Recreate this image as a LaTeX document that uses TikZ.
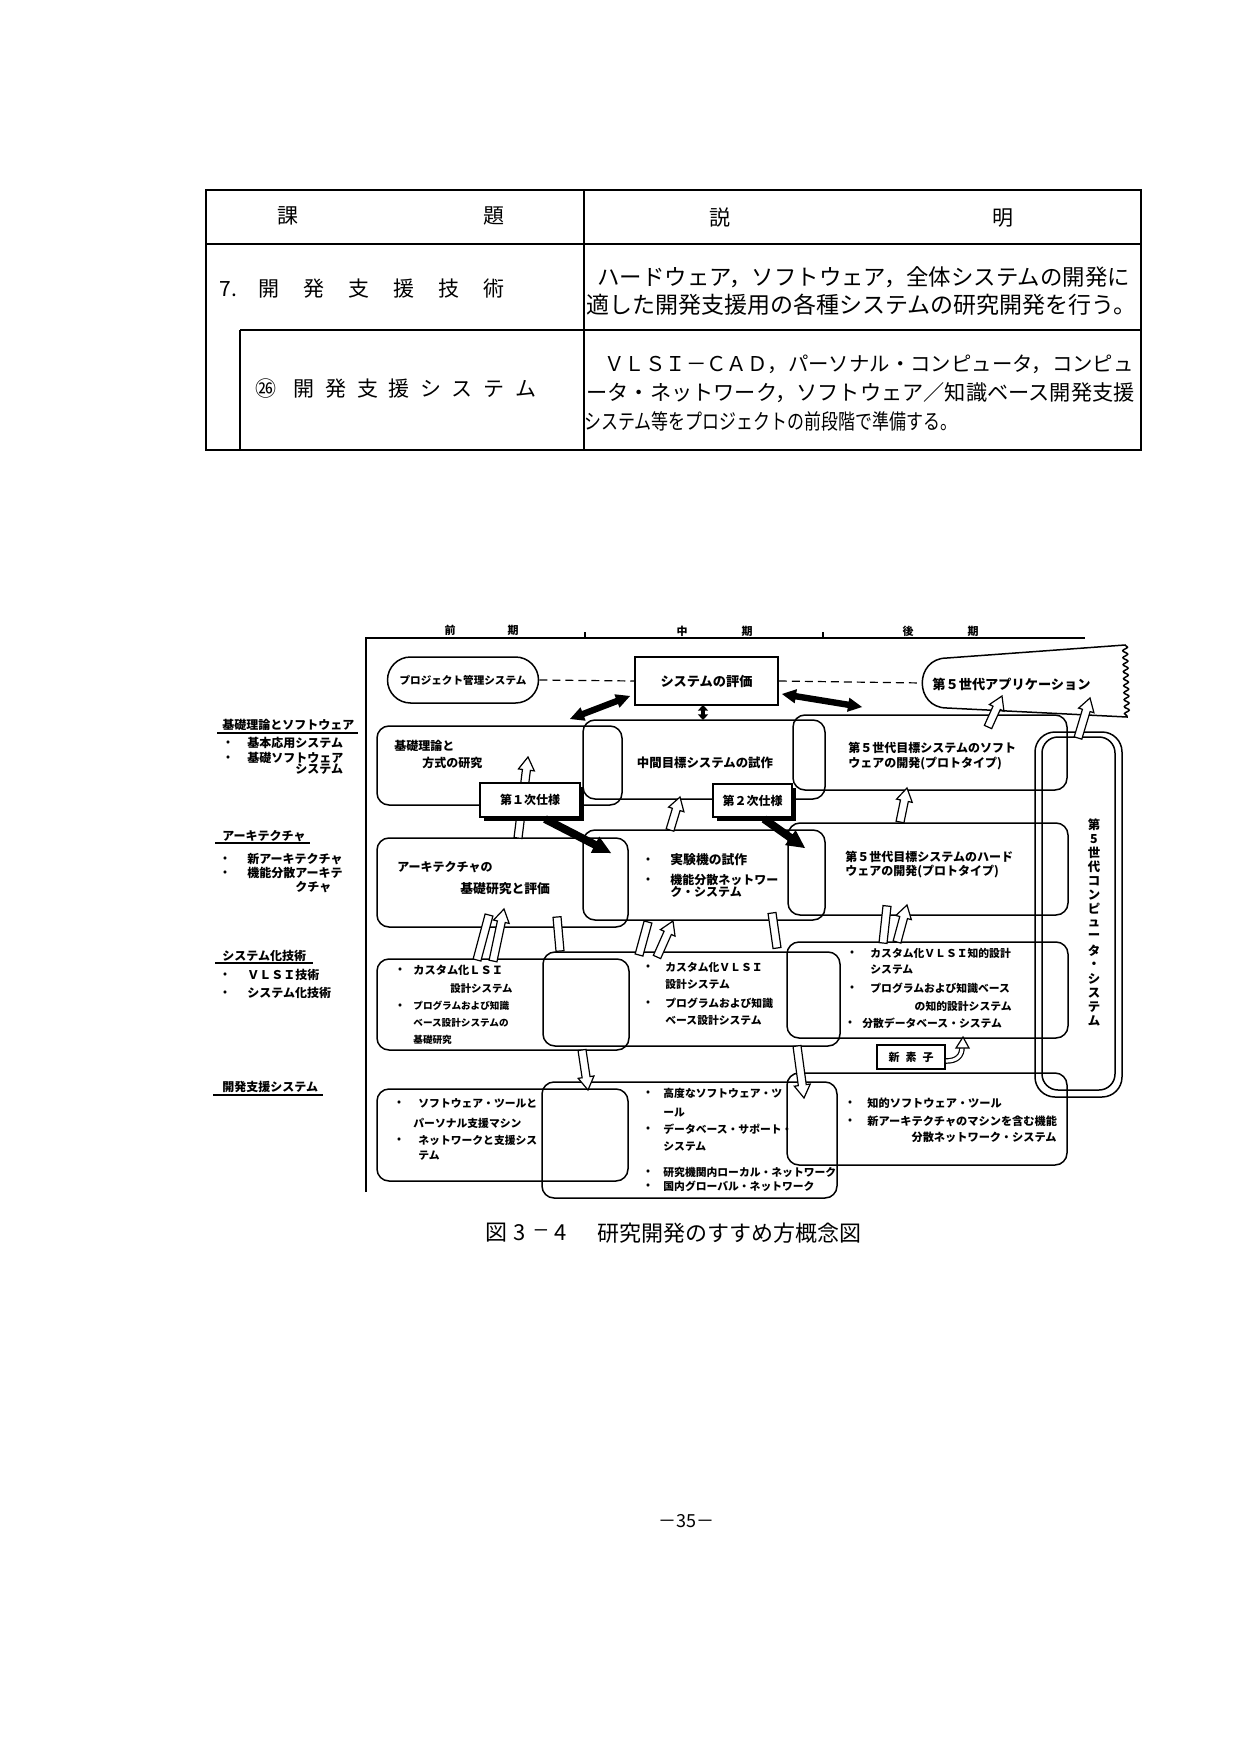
\documentclass[tikz,border=0pt]{standalone}
\usepackage{fontspec}
\usepackage{graphicx}
\setmainfont{Noto Sans CJK JP}
\usetikzlibrary{calc,fit,shadows,decorations.pathmorphing}
\newcommand\fs[1]{\fontsize{#1}{#1}\selectfont\bfseries}
\newcommand\ft[1]{\fontsize{#1}{#1}\selectfont}
\newcommand\gapA{\hspace{12pt}}
\newcommand\gapB{\hspace{5.3pt}}
% hollow block arrow from #1 to #2
\newcommand\hollowarr[2]{%
  \coordinate (bH) at ($(#2)!6.5pt!(#1)$);
  \draw[arrline] ($(#1)!2pt!90:(#2)$) -- ($(bH)!2pt!90:(#2)$) -- ($(bH)!4pt!90:(#2)$) -- (#2) -- ($(bH)!4pt!-90:(#2)$) -- ($(bH)!2pt!-90:(#2)$) -- ($(#1)!2pt!-90:(#2)$) -- cycle;}
% hollow strip (no head)
\newcommand\hollowstrip[2]{%
  \draw[arrline] ($(#1)!2pt!90:(#2)$) -- ($(#2)!2pt!-90:(#1)$) -- ($(#2)!2pt!90:(#1)$) -- ($(#1)!2pt!-90:(#2)$) -- cycle;}
% solid block arrow
\newcommand\solidarr[2]{%
  \coordinate (bS) at ($(#2)!9pt!(#1)$);
  \fill ($(#1)!2pt!90:(#2)$) -- ($(bS)!2pt!90:(#2)$) -- ($(bS)!4.6pt!90:(#2)$) -- (#2) -- ($(bS)!4.6pt!-90:(#2)$) -- ($(bS)!2pt!-90:(#2)$) -- ($(#1)!2pt!-90:(#2)$) -- cycle;}
% solid double-headed arrow: a, b, half shaft, half head, head length
\newcommand\dblarr[5]{%
  \coordinate (dA) at ($(#1)!#5!(#2)$);
  \coordinate (dB) at ($(#2)!#5!(#1)$);
  \fill (#1) -- ($(dA)!#4!90:(#2)$) -- ($(dA)!#3!90:(#2)$) -- ($(dB)!#3!-90:(#1)$) -- ($(dB)!#4!-90:(#1)$) -- (#2) -- ($(dB)!#4!90:(#1)$) -- ($(dB)!#3!90:(#1)$) -- ($(dA)!#3!-90:(#2)$) -- ($(dA)!#4!-90:(#2)$) -- cycle;}
\begin{document}
\begin{tikzpicture}[x=0.5pt,y=-0.5pt,
  box/.style={draw, line width=0.75pt, rounded corners=6pt, inner sep=0pt},
  arrline/.style={draw, fill=white, line width=0.6pt, line join=miter},
  tl/.style={inner sep=0pt, anchor=west, font=\fs{6}},
  tm/.style={inner sep=0pt, anchor=west, font=\fs{5.4}},
  bul/.style={inner sep=0pt, font=\fs{5}},
  tab/.style={inner sep=0pt, anchor=west, font=\ft{10.6}},
  th/.style={inner sep=0pt, font=\ft{10.5}},
  per/.style={inner sep=0pt, font=\fs{5.5}},
  dsh/.style={dashed, dash pattern=on 4pt off 2.5pt, line width=0.6pt},
  spec/.style={draw, fill=white, line width=0.8pt, inner sep=0pt, font=\fs{6},
     drop shadow={shadow xshift=1.8pt, shadow yshift=-1.8pt, fill=black, opacity=1}},
  tabline/.style={line width=0.8pt},
  captx/.style={inner sep=0pt, font=\ft{11}}]
\fill[white] (0,0) rectangle (1248,1754);
\useasboundingbox (0,0) rectangle (1248,1754);

% ---------------- table ----------------
\draw[line width=1.2pt] (206,190) rectangle (1141,450);
\draw[tabline] (206,244) -- (1141,244);
\draw[tabline] (240,330) -- (1141,330);
\draw[tabline] (240,330) -- (240,450);
\draw[tabline] (584,190) -- (584,450);
\node[th] (hk1) at (288,216) {課};
\node[th] (hk2) at (494,216) {題};
\node[th] (hs1) at (720,218) {説};
\node[th] (hs2) at (1003,218) {明};
\node[tab, font=\ft{10.5}] (r1l) at (219,289) {7.\hspace{11pt}開\gapA 発\gapA 支\gapA 援\gapA 技\gapA 術};
\node[tab, font=\ft{10.5}] (r2l) at (255.5,389) {㉖\hspace{8.5pt}開\gapB 発\gapB 支\gapB 援\gapB シ\gapB ス\gapB テ\gapB ム};
\node[tab, font=\ft{11.2}] (r1a) at (597,277) {ハードウェア，ソフトウェア，全体システムの開発に};
\node[tab, font=\ft{11.5}] (r1b) at (586,305) {適した開発支援用の各種システムの研究開発を行う。};
\node[tab, font=\ft{10.2}] (r2a) at (604,364) {ＶＬＳＩ－ＣＡＤ，パーソナル・コンピュータ，コンピュ};
\node[tab] (r2b) at (586,393) {ータ・ネットワーク，ソフトウェア／知識ベース開発支援};
\node[tab] (r2c) at (584,421) {\scalebox{0.8}[1]{システム等をプロジェクトの前段階で準備する。}};

% ---------------- time axis frame ----------------
\draw[line width=1pt] (366,1192) -- (366,638) -- (1085,638);
\draw[line width=0.7pt] (585,632) -- (585,638);
\draw[line width=0.7pt] (823,632) -- (823,638);
\node[per] (pa1) at (450,630) {前};
\node[per] (pa2) at (513,630) {期};
\node[per] (pb1) at (682,631) {中};
\node[per] (pb2) at (747,631) {期};
\node[per] (pc1) at (908,631) {後};
\node[per] (pc2) at (973,631) {期};

% ---------------- left labels ----------------
\node[tl] (lab1) at (222,725) {基礎理論とソフトウェア};
\draw[line width=0.6pt] (217,733) -- (358,733);
\node[bul] (lb1) at (228,743) {•};
\node[tl] (l1a) at (247,743) {基本応用システム};
\node[bul] (lb2) at (228,758) {•};
\node[tl] (l1b) at (247,758) {基礎ソフトウェア};
\node[tl] (l1c) at (295,769) {システム};
\node[tl] (lab2) at (222,836) {アーキテクチャ};
\draw[line width=0.6pt] (215,843) -- (310,843);
\node[bul] (lb3) at (225,859) {•};
\node[tl] (l2a) at (247,859) {新アーキテクチャ};
\node[bul] (lb4) at (225,873) {•};
\node[tl] (l2b) at (247,873) {機能分散アーキテ};
\node[tl] (l2c) at (295,887) {クチャ};
\node[tl] (lab3) at (222,956) {システム化技術};
\draw[line width=0.6pt] (215,963) -- (313,963);
\node[bul] (lb5) at (225,975) {•};
\node[tl] (l3a) at (247,975) {ＶＬＳＩ技術};
\node[bul] (lb6) at (225,993) {•};
\node[tl] (l3b) at (247,993) {システム化技術};
\node[tl] (lab4) at (222,1087) {開発支援システム};
\draw[line width=0.6pt] (213,1095) -- (323,1095);

% ---------------- top row shapes ----------------
\node[draw, line width=0.75pt, rounded corners=11.5pt, minimum width=75.5pt, minimum height=23pt, inner sep=0pt, font=\fs{5.3}] (pm) at (463,680) {プロジェクト管理システム};
\node[draw, line width=0.8pt, minimum width=71.5pt, minimum height=24pt, inner sep=0pt, font=\fs{6.6}] (ev) at (706.5,681) {システムの評価};
\draw[line width=0.75pt] (947,658) -- (1125,645) decorate[decoration={snake, segment length=3.5pt, amplitude=1.2pt}] {-- (1127,717)} -- (947,708) .. controls (914,708) and (914,658) .. (947,658);
\node[inner sep=0pt, anchor=west, font=\fs{6.6}] (app) at (932,684) {第５世代アプリケーション};
\coordinate (appW) at (922,683);
\draw[dsh] (pm.east) -- (ev.west);
\draw[dsh] (ev.east) -- (appW);

% ---------------- boxes ----------------
\node[box, fit={(377,726) (622,805)}] (A1) {};
\node[box, fit={(583,720) (825,799)}] (B1) {};
\node[box, fit={(793,715) (1067,790)}] (C1) {};
\node[box, fit={(377,838) (628,927)}] (A2) {};
\node[box, fit={(583,830) (825,920)}] (B2) {};
\node[box, fit={(788,823) (1068,915)}] (C2) {};
\node[box, fit={(377,959) (629,1050)}] (A3) {};
\node[box, fit={(543,952) (840,1046)}] (B3) {};
\node[box, fit={(787,942) (1068,1038)}] (C3) {};
\node[box, fit={(377,1089) (628,1181)}] (A4) {};
\node[box, fit={(542,1082) (837,1198)}] (B4) {};
\node[box, fit={(787,1073) (1067,1165)}] (C4) {};
\node[draw, line width=0.75pt, rounded corners=10pt, inner sep=0pt, fit={(1035,732) (1122,1097)}] (BGo) {};
\node[draw, line width=0.75pt, rounded corners=8pt, inner sep=0pt, fit={(1042,737) (1115,1090)}] (BGi) {};

% ---------------- hollow arrows ----------------
\coordinate (h1s) at (518,838);  \coordinate (h1e) at (528,757);
\coordinate (h2s) at (670,830);  \coordinate (h2e) at (680,797);
\coordinate (h3s) at (900,822);  \coordinate (h3e) at (907,788);
\coordinate (h4s) at (988,727);  \coordinate (h4e) at (1002,696);
\coordinate (h5s) at (1078,738); \coordinate (h5e) at (1090,698);
\coordinate (h6s) at (493,961);  \coordinate (h6e) at (504,909);
\coordinate (h7s) at (657,957);  \coordinate (h7e) at (673,921);
\coordinate (h8s) at (897,942);  \coordinate (h8e) at (907,905);
\coordinate (s6s) at (477,960);  \coordinate (s6e) at (489,915);
\coordinate (s7s) at (639,955);  \coordinate (s7e) at (648,922);
\coordinate (s8s) at (883,943);  \coordinate (s8e) at (887,906);
\coordinate (s9s) at (557,917);  \coordinate (s9e) at (560,951);
\coordinate (s10s) at (772,913); \coordinate (s10e) at (777,948);
\coordinate (d1s) at (582,1050); \coordinate (d1e) at (588,1090);
\coordinate (d2s) at (797,1046); \coordinate (d2e) at (804,1098);
\hollowarr{h1s}{h1e}
\hollowarr{h2s}{h2e}
\hollowarr{h3s}{h3e}
\hollowarr{h4s}{h4e}
\hollowarr{h5s}{h5e}
\hollowstrip{s6s}{s6e}
\hollowarr{h6s}{h6e}
\hollowstrip{s7s}{s7e}
\hollowarr{h7s}{h7e}
\hollowstrip{s8s}{s8e}
\hollowarr{h8s}{h8e}
\hollowstrip{s9s}{s9e}
\hollowstrip{s10s}{s10e}
\hollowarr{d1s}{d1e}
\hollowarr{d2s}{d2e}

% ---------------- spec boxes and new element ----------------
\node[spec, minimum width=50pt, minimum height=17pt] (sp1) at (530,800) {第１次仕様};
\node[spec, minimum width=39.5pt, minimum height=16.5pt] (sp2) at (752.5,800.5) {第２次仕様};
\node[draw, line width=0.9pt, minimum width=34pt, minimum height=12pt, inner sep=0pt, font=\fs{5.5}] (ns) at (911,1057) {新\hspace{3pt}素\hspace{3pt}子};
\coordinate (nsT) at (963,1037);
\draw[line width=0.6pt, double distance=1.6pt] ($(ns.east)+(0,4)$) .. controls (957,1061) and (962,1056) .. (962,1047);
\draw[arrline] (956,1048) -- (nsT) -- (969,1048) -- cycle;

% ---------------- solid arrows ----------------
\coordinate (k1s) at (545,819); \coordinate (k1e) at (611,853);
\coordinate (k2s) at (764,819); \coordinate (k2e) at (805,848);
\solidarr{k1s}{k1e}
\solidarr{k2s}{k2e}
\coordinate (dd1a) at (570,719); \coordinate (dd1b) at (630,696);
\coordinate (dd2a) at (782,694); \coordinate (dd2b) at (862,707);
\coordinate (dd3a) at (703,705); \coordinate (dd3b) at (703,720);
\dblarr{dd1a}{dd1b}{1.6pt}{3.6pt}{7pt}
\dblarr{dd2a}{dd2b}{1.6pt}{3.6pt}{7pt}
\dblarr{dd3a}{dd3b}{0.9pt}{2.6pt}{2.8pt}

% ---------------- box texts ----------------
\node[tl] (a1a) at (394,746) {基礎理論と};
\node[tl] (a1b) at (422,763) {方式の研究};
\node[inner sep=0pt, font=\fs{6.2}] (b1a) at (705,763) {中間目標システムの試作};
\node[tl] (c1a) at (848,748) {第５世代目標システムのソフト};
\node[tl] (c1b) at (848,764) {ウェアの開発(プロトタイプ)};
\node[tl] (a2a) at (397,867) {アーキテクチャの};
\node[tl, font=\fs{6.4}] (a2b) at (460,889) {基礎研究と評価};
\node[bul] (b2x) at (648,860) {•};
\node[tl, font=\fs{6.4}] (b2a) at (670,860) {実験機の試作};
\node[bul] (b2y) at (648,880) {•};
\node[tl] (b2b) at (670,880) {機能分散ネットワー};
\node[tl] (b2c) at (670,892) {ク・システム};
\node[tl] (c2a) at (845,857) {第５世代目標システムのハード};
\node[tl] (c2b) at (845,872) {ウェアの開発(プロトタイプ)};
\node[bul] (a3x) at (400,970) {•};
\node[tl, font=\fs{5.6}] (a3a) at (413,970) {カスタム化ＬＳＩ};
\node[tl, font=\fs{5.2}] (a3b) at (450,989) {設計システム};
\node[bul] (a3y) at (400,1006) {•};
\node[tl, font=\fs{4.8}] (a3c) at (413,1006) {プログラムおよび知識};
\node[tl, font=\fs{4.8}] (a3d) at (413,1023) {ベース設計システムの};
\node[tl, font=\fs{4.8}] (a3e) at (413,1040) {基礎研究};
\node[bul] (b3x) at (648,967) {•};
\node[tm] (b3a) at (665,967) {カスタム化ＶＬＳＩ};
\node[tm] (b3b) at (665,984) {設計システム};
\node[bul] (b3y) at (648,1003) {•};
\node[tm] (b3c) at (665,1003) {プログラムおよび知識};
\node[tm] (b3d) at (665,1020) {ベース設計システム};
\node[bul] (c3x) at (852,953) {•};
\node[tm] (c3a) at (870,953) {カスタム化ＶＬＳＩ知的設計};
\node[tm] (c3b) at (870,970) {システム};
\node[bul] (c3y) at (852,988) {•};
\node[tm] (c3c) at (870,988) {プログラムおよび知識ベース};
\node[tm, anchor=east] (c3d) at (1012,1006) {の知的設計システム};
\node[bul] (c3z) at (850,1023) {•};
\node[tm] (c3e) at (862,1023) {分散データベース・システム};
\node[bul] (a4x) at (399,1103) {•};
\node[tm] (a4a) at (418,1103) {ソフトウェア・ツールと};
\node[tm] (a4b) at (413,1123) {パーソナル支援マシン};
\node[bul] (a4y) at (399,1140) {•};
\node[tm] (a4c) at (418,1140) {ネットワークと支援シス};
\node[tm] (a4d) at (418,1156) {テム};
\node[bul] (b4x) at (648,1093) {•};
\node[tm] (b4a) at (663,1093) {高度なソフトウェア・ツ};
\node[tm] (b4b) at (663,1113) {ール};
\node[bul] (b4y) at (648,1129) {•};
\node[tm] (b4c) at (663,1129) {データベース・サポート・};
\node[tm] (b4d) at (663,1147) {システム};
\node[bul] (b4z) at (648,1172) {•};
\node[tm] (b4e) at (663,1172) {研究機関内ローカル・ネットワーク};
\node[bul] (b4w) at (648,1186) {•};
\node[tm] (b4f) at (663,1186) {国内グローバル・ネットワーク};
\node[bul] (c4x) at (850,1103) {•};
\node[tm, font=\fs{5.6}] (c4a) at (867,1103) {知的ソフトウェア・ツール};
\node[bul] (c4y) at (850,1121) {•};
\node[tm, font=\fs{5.6}] (c4b) at (867,1121) {新アーキテクチャのマシンを含む機能};
\node[tm, font=\fs{5.6}, anchor=east] (c4c) at (1057,1137) {分散ネットワーク・システム};
\foreach \c [count=\i] in {第,5,世,代,コ,ン,ピ,ュ,ー,タ,・,シ,ス,テ,ム}
  \node[inner sep=0pt, font=\fs{6.2}] (v\i) at (1094,{825+14*(\i-1)}) {\c};

% ---------------- caption and page number ----------------
\node[captx] (cap1) at (496,1233) {図};
\node[captx] (cap2) at (520,1233) {3};
\node[captx] (cap3) at (541,1233) {\scalebox{0.7}[1]{—}};
\node[captx] (cap4) at (561,1233) {4};
\node[captx, anchor=west] (cap5) at (597,1233) {研究開発のすすめ方概念図};
\node[inner sep=0pt, font=\ft{9}] (pg) at (686,1521) {－35－};
\end{tikzpicture}
\end{document}
